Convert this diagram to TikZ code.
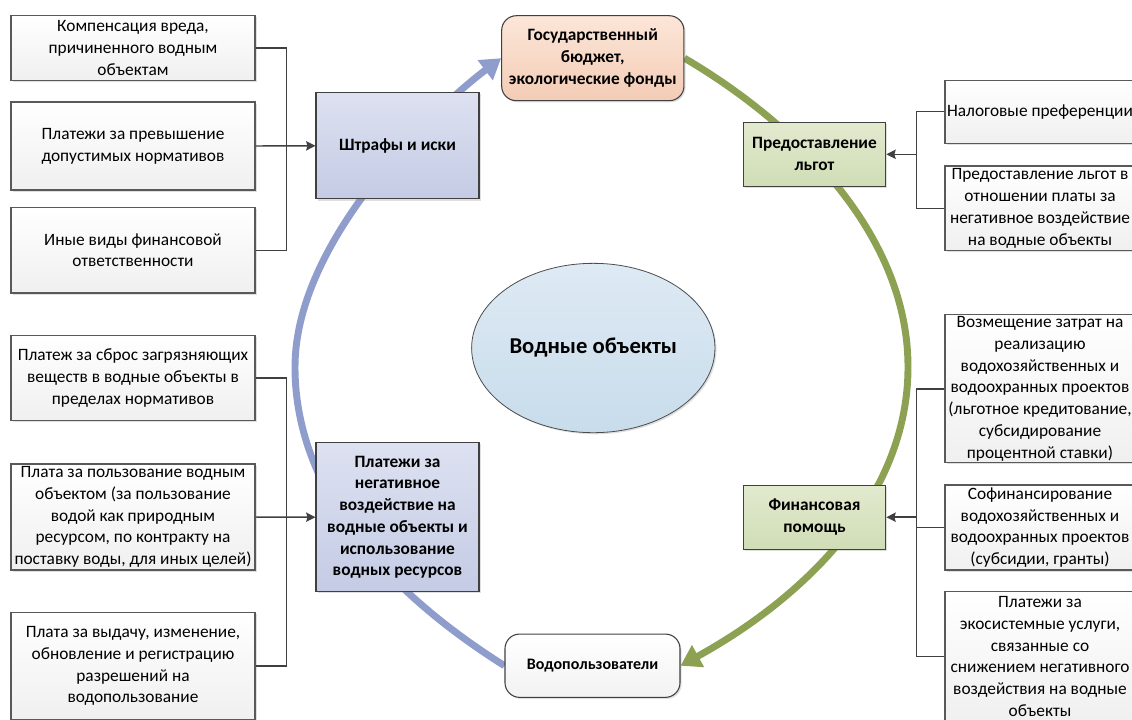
\documentclass[tikz,border=0pt]{standalone}
\usepackage{fontspec}
\setmainfont{Carlito}
\usetikzlibrary{positioning,shapes.geometric,arrows.meta,shadows}
\pgfdeclarelayer{bg}
\pgfsetlayers{bg,main}
\definecolor{arcblue}{HTML}{8E9DCC}
\definecolor{arcgreen}{HTML}{8CA152}
\definecolor{wire}{HTML}{404040}
\definecolor{frame}{HTML}{595959}

\begin{document}
\begin{tikzpicture}[x=0.75pt, y=-0.75pt,
    every node/.style={inner sep=0pt, align=center, font=\fontsize{13}{16.3}\selectfont},
    shade/.style={drop shadow={shadow xshift=1.2pt, shadow yshift=-1.2pt, opacity=0.25}},
    item/.style={shade, draw=frame, line width=0.8pt, top color=white, bottom color=black!6,
      minimum width=183pt},
    ritem/.style={item, minimum width=142.5pt},
    kind/.style={shade, draw=black!75, line width=0.8pt, top color={rgb,255:red,221;green,225;blue,241}, bottom color={rgb,255:red,196;green,203;blue,228},
      minimum width=122.25pt, font=\fontsize{13}{16.3}\selectfont\bfseries},
    aid/.style={kind, top color={rgb,255:red,226;green,234;blue,207}, bottom color={rgb,255:red,208;green,221;blue,182},
      minimum width=107pt, minimum height=47.8pt},
    fund/.style={shade, draw=black!75, line width=0.8pt, rounded corners=11pt,
      top color={rgb,255:red,252;green,230;blue,216}, bottom color={rgb,255:red,243;green,204;blue,181},
      minimum width=136.7pt, minimum height=63.75pt, font=\fontsize{13}{16.3}\selectfont\bfseries},
    users/.style={fund, top color=white, bottom color=black!5, minimum width=131.25pt, minimum height=47.5pt,
      font=\fontsize{12}{15}\selectfont\bfseries},
    water/.style={shade, ellipse, draw=black!70, line width=0.6pt,
      top color={rgb,255:red,222;green,234;blue,244}, bottom color={rgb,255:red,200;green,220;blue,235},
      minimum width=182.5pt, minimum height=127pt, font=\fontsize{17}{20}\selectfont\bfseries},
    arc/.style={line width=5.2pt, -{Triangle[length=15pt, width=18pt]}},
    tie/.style={draw=wire, line width=1.1pt},
    into/.style={tie, -{Stealth[length=7pt, width=7pt, inset=1pt]}}]
  \useasboundingbox (0,0) rectangle (1132,719);

  \node (a1) [item, minimum height=48.2pt] at (133,47.9) {Компенсация вреда,\\причиненного водным\\объектам};
  \node (a2) [item, minimum height=66pt] at (133,146) {Платежи за превышение\\допустимых нормативов};
  \node (a3) [item, minimum height=64pt] at (133,250.3) {Иные виды финансовой\\ответственности};
  \node (b1) [item, minimum height=63.75pt] at (133,378.2) {Платеж за сброс загрязняющих\\веществ в водные объекты в\\пределах нормативов};
  \node (b2) [item, minimum height=79.5pt] at (133,517) {Плата за пользование водным\\объектом (за пользование\\водой как природным\\ресурсом, по контракту на\\поставку воды, для иных целей)};
  \node (b3) [item, minimum height=80.5pt] at (133,666) {Плата за выдачу, изменение,\\обновление и регистрацию\\разрешений на\\водопользование};

  \node (shtr) [kind, minimum height=79.7pt] at (397.5,145.8) {Штрафы и иски};
  \node (plat) [kind, minimum height=111.75pt] at (397.5,517.2) {Платежи за\\негативное\\воздействие на\\водные объекты и\\использование\\водных ресурсов};

  \node (bud) [fund] at (592.8,58.2) {Государственный\\бюджет,\\экологические фонды};
  \node (vo) [water] at (593.3,348) {Водные объекты};
  \node (vp) [users] at (592.5,665.7) {Водопользователи};

  \node (lg) [aid] at (814.5,154.3) {Предоставление\\льгот};
  \node (fp) [aid] at (814.5,517.2) {Финансовая\\помощь};

  \node (c1) [ritem, minimum height=47.5pt] at (1040,111.7) {Налоговые преференции};
  \node (c2) [ritem, minimum height=63.5pt] at (1040,208.3) {Предоставление льгот в\\отношении платы за\\негативное воздействие\\на водные объекты};
  \node (d1) [ritem, minimum height=110.8pt] at (1040,388.8) {Возмещение затрат на\\реализацию\\водохозяйственных и\\водоохранных проектов\\(льготное кредитование,\\субсидирование\\процентной ставки)};
  \node (d2) [ritem, minimum height=63.75pt] at (1040,527.5) {Софинансирование\\водохозяйственных и\\водоохранных проектов\\(субсидии, гранты)};
  \node (d3) [ritem, minimum height=98pt] at (1040,656.5) {Платежи за\\экосистемные услуги,\\связанные со\\снижением негативного\\воздействия на водные\\объекты};

  \coordinate (rb) at (916.3,0);

  \draw[tie] (a1.east) -- ++(30.7,0) |- (a3.east);
  \draw[into] (a2.east) -- (shtr.west);
  \draw[tie] (b1.east) -- ++(30.7,0) |- (b3.east);
  \draw[into] (b2.east) -- (plat.west);
  \draw[tie] (c1.west) -| (rb |- c2.west) -- (c2.west);
  \draw[into] (rb |- lg.east) -- (lg.east);
  \draw[tie] (d1.west) -| (rb |- d3.west) -- (d3.west);
  \draw[tie] (d2.west) -- (rb |- d2.west);
  \draw[into] (rb |- fp.east) -- (fp.east);

  \begin{pgfonlayer}{bg}
    \draw[arc, arcblue] (vp.west) .. controls (400,600) and (295,500) .. (295,367)
      .. controls (295,240) and (435,108) .. (bud.west);
    \draw[arc, arcgreen] (bud.east) .. controls (790,120) and (908,230) .. (908,367)
      .. controls (908,500) and (800,600) .. (vp.east);
  \end{pgfonlayer}
\end{tikzpicture}
\end{document}
